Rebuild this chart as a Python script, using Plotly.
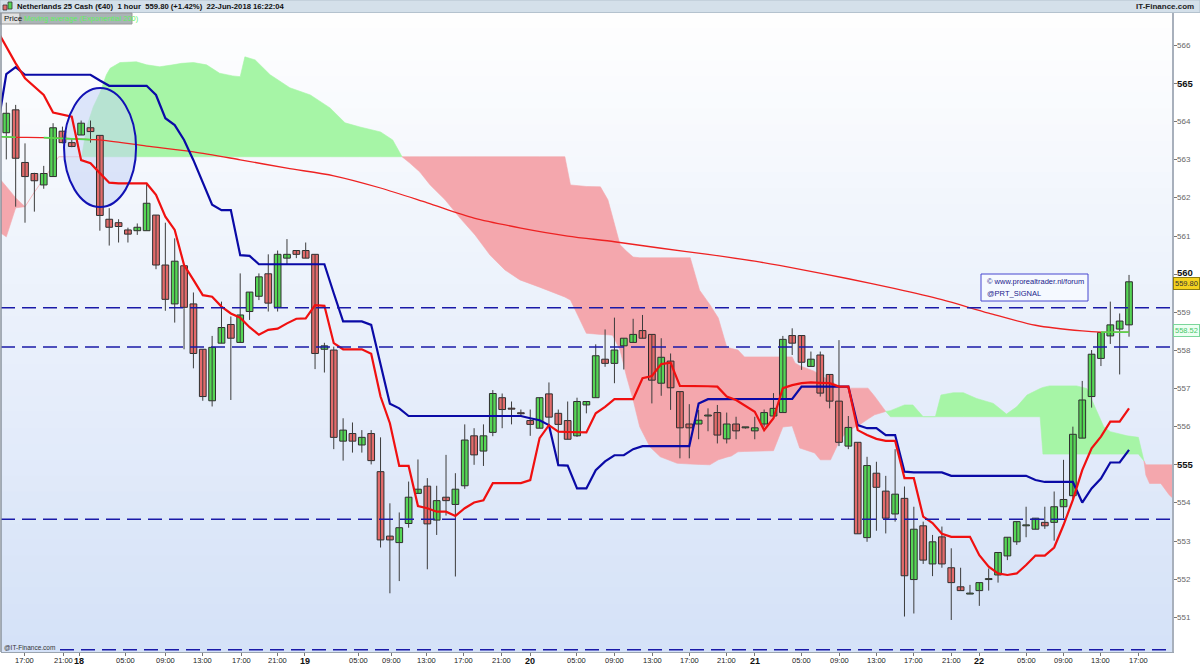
import math
import plotly.graph_objects as go

# ---------------- data ----------------
opens = [563.71, 564.31, 562.93, 562.64, 562.34, 562.56, 563.75, 563.45, 563.65, 563.84,
         563.64, 561.44, 561.35, 561.16, 561.14, 561.14, 561.55, 560.24, 559.22, 560.22,
         559.22, 558.03, 556.68, 558.19, 558.68, 558.21, 559.02, 559.42, 560.01, 559.13,
         560.42, 560.62, 560.62, 560.52, 558.03, 558.01, 555.62, 555.82, 555.52, 555.82,
         554.82, 553.13, 552.96, 553.46, 554.25, 554.44, 553.55, 554.15, 553.96, 554.45,
         555.76, 555.36, 555.85, 556.76, 556.47, 556.35, 556.16, 555.96, 556.86, 556.35,
         556.16, 555.76, 556.57, 556.76, 557.77, 557.66, 558.12, 558.21, 558.52, 558.42,
         557.14, 557.72, 556.92, 556.07, 556.07, 556.28, 556.37, 555.68, 556.07, 555.97,
         555.89, 556.07, 556.28, 556.37, 558.39, 558.39, 557.58, 557.88, 557.37, 556.67,
         555.49, 555.59, 553.09, 554.78, 554.31, 553.71, 554.12, 551.99, 553.40, 552.40,
         553.11, 552.30, 551.80, 551.61, 551.70, 551.99, 552.11, 552.61, 552.98, 553.40,
         553.31, 553.49, 553.49, 553.90, 554.19, 555.70, 556.79, 557.79, 558.38, 558.56,
         558.67]
highs = [564.50, 564.44, 563.43, 562.66, 562.84, 563.96, 563.87, 563.56, 564.03, 564.03,
         563.64, 561.73, 561.44, 561.22, 561.33, 562.36, 561.55, 561.35, 560.94, 560.22,
         559.52, 558.03, 558.38, 559.28, 558.89, 560.02, 559.53, 560.02, 560.52, 560.62,
         560.92, 560.62, 560.83, 560.52, 558.20, 558.10, 556.22, 556.11, 555.91, 555.91,
         555.72, 553.99, 553.75, 554.56, 555.14, 554.65, 554.45, 555.26, 554.78, 556.06,
         555.96, 556.06, 556.96, 556.87, 556.66, 556.45, 556.45, 556.76, 557.16, 556.45,
         556.66, 556.76, 556.66, 558.16, 558.55, 558.86, 558.32, 558.83, 558.93, 558.42,
         558.32, 557.92, 556.92, 556.59, 556.44, 556.48, 556.57, 556.37, 556.26, 555.99,
         556.26, 556.45, 556.88, 558.38, 558.58, 558.39, 557.97, 557.97, 557.37, 558.27,
         556.28, 555.59, 555.21, 555.08, 554.71, 555.41, 554.43, 553.90, 553.51, 553.16,
         553.38, 552.81, 552.30, 551.85, 551.91, 552.28, 552.70, 553.10, 553.51, 553.90,
         553.60, 553.90, 554.30, 555.13, 556.00, 557.20, 558.01, 558.47, 559.28, 558.97,
         559.98]
lows = [563.01, 561.77, 561.35, 561.64, 562.24, 562.56, 563.43, 563.33, 563.65, 563.45,
        561.14, 560.75, 560.83, 560.83, 561.03, 561.14, 560.13, 559.04, 558.73, 558.03,
        557.53, 556.68, 556.53, 558.19, 556.70, 558.21, 558.80, 559.32, 559.02, 559.02,
        560.24, 560.42, 560.42, 557.51, 557.42, 555.41, 555.11, 555.32, 555.32, 555.01,
        552.83, 551.63, 551.95, 553.35, 554.25, 552.26, 553.16, 553.67, 552.07, 554.37,
        555.00, 554.97, 555.75, 555.96, 556.06, 556.26, 555.76, 555.96, 556.04, 555.00,
        555.67, 555.73, 556.35, 556.76, 557.57, 557.14, 557.50, 558.21, 558.32, 556.61,
        556.81, 556.44, 555.17, 555.17, 555.67, 555.88, 555.56, 555.56, 555.67, 555.95,
        555.67, 556.00, 556.28, 556.37, 557.88, 557.49, 557.58, 556.79, 556.48, 555.49,
        555.41, 553.19, 552.98, 553.27, 553.20, 553.51, 551.02, 551.10, 552.40, 552.08,
        552.30, 550.93, 551.70, 551.61, 551.30, 551.70, 551.91, 552.50, 552.90, 553.10,
        553.31, 553.32, 553.01, 553.60, 554.08, 555.70, 556.50, 557.59, 558.17, 557.37,
        558.36]
closes = [564.22, 563.04, 562.56, 562.45, 562.64, 563.84, 563.45, 563.35, 563.96, 563.74,
          561.54, 561.23, 561.25, 561.05, 561.23, 561.86, 560.24, 559.34, 560.34, 559.13,
          557.92, 556.79, 558.08, 558.60, 558.32, 558.93, 559.53, 559.93, 559.24, 560.52,
          560.52, 560.52, 560.42, 557.92, 558.12, 555.72, 555.91, 555.62, 555.72, 555.11,
          553.03, 553.03, 553.35, 554.15, 554.36, 553.45, 554.06, 554.06, 554.36, 555.65,
          555.26, 555.76, 556.87, 556.45, 556.46, 556.34, 556.06, 556.76, 556.25, 556.06,
          555.67, 556.66, 556.66, 557.86, 557.66, 558.01, 558.32, 558.42, 558.32, 557.22,
          557.82, 557.02, 555.97, 555.97, 556.17, 556.29, 555.78, 556.07, 555.89, 555.97,
          555.97, 556.37, 556.48, 558.29, 558.19, 557.69, 557.77, 556.88, 556.67, 555.59,
          555.98, 553.19, 554.98, 554.41, 553.60, 554.23, 552.09, 553.31, 552.50, 552.98,
          552.40, 551.91, 551.70, 551.61, 551.91, 552.00, 552.70, 553.10, 553.51, 553.40,
          553.60, 553.40, 553.90, 554.09, 555.80, 556.70, 557.90, 558.47, 558.67, 558.77,
          559.80]
bar_index = list(range(len(opens)))

# conversion line (red) and base line (blue), one value per bar from index -1
line_index = list(range(-1, 121))
conversion = [566.40, 565.95, 565.53, 565.14, 564.92, 564.70, 564.24, 564.18, 564.13, 562.99,
              562.91, 562.65, 562.40, 562.38, 562.38, 562.38, 562.38, 562.08, 561.51, 561.16,
              560.24, 559.85, 559.45, 559.41, 559.15, 558.97, 558.86, 558.61, 558.41, 558.54,
              558.57, 558.71, 558.83, 558.84, 559.19, 559.17, 558.19, 558.03, 558.03, 558.03,
              557.91, 556.79, 556.09, 554.97, 554.97, 553.92, 553.86, 553.77, 553.77, 553.66,
              553.86, 554.01, 554.07, 554.52, 554.52, 554.52, 554.52, 554.60, 555.70, 556.04,
              555.87, 555.86, 555.86, 555.85, 556.35, 556.52, 556.72, 556.72, 556.72, 557.27,
              557.33, 557.64, 557.68, 557.07, 557.07, 557.07, 557.06, 557.05, 556.79, 556.70,
              556.54, 556.39, 555.91, 556.22, 557.01, 557.09, 557.14, 557.16, 557.15, 557.14,
              557.05, 557.05, 555.91, 555.78, 555.68, 555.63, 555.63, 554.65, 554.65, 553.64,
              553.47, 553.19, 553.11, 553.11, 553.11, 552.63, 552.33, 552.15, 552.11, 552.15,
              552.37, 552.62, 552.62, 552.83, 553.42, 554.08, 554.86, 555.43, 555.74, 556.13,
              556.13, 556.48]
base = [563.75, 565.25, 565.43, 565.23, 565.23, 565.23, 565.23, 565.23, 565.23, 565.23,
        565.23, 565.08, 564.94, 564.94, 564.94, 564.94, 564.94, 564.70, 564.09, 563.91,
        563.52, 562.99, 562.38, 561.82, 561.68, 561.68, 560.50, 560.48, 560.26, 560.26,
        560.26, 560.26, 560.26, 560.26, 560.26, 560.26, 559.50, 558.76, 558.76, 558.76,
        558.67, 557.66, 556.60, 556.48, 556.28, 556.28, 556.28, 556.28, 556.28, 556.28,
        556.28, 556.28, 556.28, 556.28, 556.28, 556.28, 556.28, 556.22, 556.17, 556.04,
        554.99, 554.98, 554.38, 554.38, 554.86, 555.09, 555.25, 555.25, 555.41, 555.49,
        555.49, 555.49, 555.49, 555.49, 555.49, 556.61, 556.72, 556.72, 556.72, 556.72,
        556.72, 556.72, 556.72, 556.72, 556.72, 556.73, 557.05, 557.05, 557.05, 557.05,
        557.05, 557.05, 556.04, 555.96, 555.96, 555.78, 555.78, 554.82, 554.80, 554.80,
        554.80, 554.80, 554.71, 554.71, 554.71, 554.71, 554.71, 554.71, 554.71, 554.71,
        554.71, 554.60, 554.55, 554.55, 554.55, 554.55, 554.01, 554.38, 554.64, 555.06,
        555.06, 555.39]

# exponential moving average 200 (read at sample bars)
ema_index = [-1, 0, 1, 4, 9, 10, 15, 20, 25, 30, 35, 40, 45, 50, 55, 60, 65, 70, 75, 80,
             85, 90, 95, 100, 105, 110, 115, 117, 120]
ema_value = [563.61, 563.60, 563.59, 563.58, 563.53, 563.52, 563.36, 563.21, 563.00, 562.78,
             562.58, 562.26, 561.87, 561.47, 561.21, 561.00, 560.85, 560.68, 560.52, 560.34,
             560.12, 559.88, 559.62, 559.33, 558.98, 558.66, 558.51, 558.48, 558.48]
ema_above_ranges = [(-1, 1), (4, 9), (117, 120)]

# cloud: leading span A and B (bar index, value)
cloud_index = [-1.0, -0.6, 0.0, 1.0, 2.0, 3.0, 4.0, 5.0, 5.6, 8.06,
               8.6, 9.3, 10.0, 10.7, 11.1, 12.15, 13.9, 15.0, 16.4, 17.8,
               18.75, 20.0, 21.4, 22.8, 24.2, 25.0, 25.5, 26.6, 28.2, 30.3,
               32.5, 34.6, 36.2, 37.8, 40.0, 41.3, 42.3,
               43.1, 44.2, 45.3, 46.9, 48.5, 50.1, 51.7, 53.3, 54.9, 57.0,
               59.2, 59.7, 60.3, 62.0, 63.5, 64.3, 64.8, 65.6, 66.3, 67.0,
               67.7, 68.8, 69.9, 71.7, 73.1, 74.1, 75.2, 76.1, 77.0, 77.5,
               78.2, 78.9, 82.0, 83.0, 84.0, 84.3, 84.8, 86.4, 87.0, 88.1,
               89.1, 90.0, 91.2, 92.1, 92.8, 94.0,
               94.5, 96.0, 96.9, 98.0, 99.3, 99.9, 101.2, 102.3, 103.7, 105.5,
               106.9, 108.0, 109.1, 110.5, 110.8, 111.5, 114.4, 115.5, 116.5, 117.3,
               118.0, 119.8, 121.0, 121.6,
               121.8, 122.2, 123.4, 124.3, 124.8]
span_a = [561.10, 561.08, 560.98, 561.74, 561.77, 562.15, 562.50, 562.85, 563.08, 563.08,
          563.87, 564.39, 564.75, 565.23, 565.40, 565.55, 565.57, 565.49, 565.44, 565.49,
          565.53, 565.55, 565.49, 565.27, 565.20, 565.18, 565.70, 565.62, 565.23, 564.89,
          564.70, 564.36, 563.97, 563.86, 563.73, 563.52, 563.08,
          562.92, 562.68, 562.34, 561.95, 561.47, 561.03, 560.50, 560.11, 559.85, 559.66,
          559.45, 559.40, 559.32, 558.45, 558.42, 558.41, 558.40, 558.01, 557.31, 556.70,
          556.00, 555.47, 555.21, 555.04, 555.02, 555.01, 555.00, 555.13, 555.20, 555.23,
          555.34, 555.35, 555.37, 555.99, 556.02, 555.80, 555.44, 555.31, 555.13, 555.13,
          555.65, 555.90, 556.05, 556.20, 556.31, 556.40,
          556.42, 556.57, 556.57, 556.26, 556.26, 556.83, 556.89, 556.89, 556.74, 556.61,
          556.33, 556.52, 556.83, 557.00, 557.03, 557.07, 557.07, 557.00, 556.44, 556.00,
          555.87, 555.76, 555.72, 555.10,
          554.73, 554.51, 554.51, 554.21, 554.10]
span_b = [562.55, 562.47, 562.30, 562.00, 561.77, 562.15, 562.50, 562.85, 563.08, 563.08,
          563.08, 563.08, 563.08, 563.08, 563.08, 563.08, 563.08, 563.08, 563.08, 563.08,
          563.08, 563.08, 563.08, 563.08, 563.08, 563.08, 563.08, 563.08, 563.08, 563.08,
          563.08, 563.08, 563.08, 563.08, 563.08, 563.08, 563.08,
          563.08, 563.08, 563.08, 563.08, 563.08, 563.08, 563.08, 563.08, 563.08, 563.08,
          563.08, 563.08, 562.34, 562.30, 562.29, 561.95, 561.50, 560.77, 560.60, 560.45,
          560.43, 560.43, 560.43, 560.43, 560.43, 559.58, 559.20, 558.85, 558.09, 558.05,
          558.01, 557.83, 557.83, 557.83, 557.83, 557.67, 557.60, 557.45, 557.35, 557.20,
          557.05, 557.01, 557.01, 557.01, 556.80, 556.40,
          556.26, 556.26, 556.26, 556.26, 556.26, 556.26, 556.26, 556.26, 556.26, 556.26,
          556.26, 556.26, 556.26, 556.26, 555.28, 555.28, 555.28, 555.28, 555.28, 555.28,
          555.28, 555.28, 555.28, 555.10,
          555.00, 555.00, 555.00, 555.00, 555.00]

levels = [559.12, 558.09, 553.57, 550.15]

tick_pos = [1.9, 6.1, 7.8, 12.7, 17.0, 21.0, 25.1, 29.0, 31.9, 37.6, 41.2, 44.9, 48.9, 52.9,
            56.0, 60.9, 65.0, 69.1, 73.0, 77.0, 80.0, 85.0, 89.1, 93.0, 97.0, 101.0, 104.0,
            109.0, 113.0, 117.0, 121.0]
tick_text = ['17:00', '21:00', '18', '05:00', '09:00', '13:00', '17:00', '21:00', '19', '05:00',
             '09:00', '13:00', '17:00', '21:00', '20', '05:00', '09:00', '13:00', '17:00', '21:00',
             '21', '05:00', '09:00', '13:00', '17:00', '21:00', '22', '05:00', '09:00', '13:00',
             '17:00']
price_ticks = list(range(551, 567))

last_price = "559.80"
ema_last = "558.52"

# ---------------- styling helpers ----------------
FONT = "Liberation Sans"
W, H = 1200, 667
ML, MR, MT, MB = 1, 28, 13, 15
PW, PH = W - ML - MR, H - MT - MB
X0 = (ML - 6.3) / 9.356
X1 = (W - MR - 6.3) / 9.356


def pxx(xp):
    return (xp - ML) / PW


def pxy(yp):
    return (H - MB - yp) / PH


GREEN_CLOUD = "#a6f5a6"
RED_CLOUD = "#f4a7ad"
UP_COL = "#55d655"
DN_COL = "#e36b6b"

fig = go.Figure()
shapes = []

# background gradient bands
NB = 40
for k in range(NB):
    t = (k + 0.5) / NB
    r = int(255 - (255 - 213) * t)
    g = int(255 - (255 - 226) * t)
    bcol = int(255 - (255 - 248) * t)
    shapes.append(dict(type="rect", xref="paper", yref="paper", x0=0, x1=1,
                       y0=1 - (k + 1) / NB, y1=1 - k / NB + 0.001,
                       fillcolor=f"rgb({r},{g},{bcol})", line=dict(width=0), layer="below"))

# ---- cloud polygons (shapes below the candles) ----
segs = []
for k in range(len(cloud_index) - 1):
    d = (span_a[k] - span_b[k]) + (span_a[k + 1] - span_b[k + 1])
    cls = 0 if abs(d) < 1e-9 else (1 if d > 0 else -1)
    segs.append(cls)
groups = []
start = 0
for k in range(1, len(segs) + 1):
    if k == len(segs) or segs[k] != segs[start]:
        groups.append((segs[start], start, k))
        start = k
for cls, s, e in groups:
    xs = cloud_index[s:e + 1]
    a = span_a[s:e + 1]
    b = span_b[s:e + 1]
    if cls == 0:
        col = "#f2b8bd" if xs[0] < 50 else GREEN_CLOUD
        path = "M " + " L ".join(f"{x},{y}" for x, y in zip(xs, a))
        shapes.append(dict(type="path", xref="x", yref="y", path=path, layer="below",
                           line=dict(color=col, width=1)))
        continue
    col = GREEN_CLOUD if cls > 0 else RED_CLOUD
    px_ = xs + xs[::-1]
    py_ = a + b[::-1]
    path = "M " + " L ".join(f"{x},{y}" for x, y in zip(px_, py_)) + " Z"
    shapes.append(dict(type="path", xref="x", yref="y", path=path, layer="below",
                       fillcolor=col, line=dict(color=col, width=0.6)))

# ---- ellipse fill (above cloud, below candles) ----
ecx, ecy, erx, ery = 10.02, 563.32, 3.85, 1.56
shapes.append(dict(type="circle", xref="x", yref="y", x0=ecx - erx, x1=ecx + erx,
                   y0=ecy - ery, y1=ecy + ery, line=dict(width=0),
                   fillcolor="rgba(196,212,246,0.55)", layer="below"))

# ---- candles: wicks then bodies ----
wx, wy = [], []
for i, h, l in zip(bar_index, highs, lows):
    wx += [i, i, None]
    wy += [l, h, None]
fig.add_trace(go.Scatter(x=wx, y=wy, mode="lines", line=dict(color="#3c3c3c", width=1),
                         hoverinfo="skip", showlegend=False))
body_base = [min(o, c) for o, c in zip(opens, closes)]
body_len = [max(abs(c - o), 0.025) for o, c in zip(opens, closes)]
body_col = [UP_COL if c >= o else DN_COL for o, c in zip(opens, closes)]
fig.add_trace(go.Bar(x=bar_index, y=body_len, base=body_base, width=0.72,
                     marker=dict(color=body_col, line=dict(color="#2e2e2e", width=1)),
                     hoverinfo="skip", showlegend=False))

# ---- EMA 200 ----
fig.add_trace(go.Scatter(x=ema_index, y=ema_value, mode="lines",
                         line=dict(color="#ee2222", width=1.3, shape="spline", smoothing=0.8),
                         hoverinfo="skip", showlegend=False))
for a0, a1 in ema_above_ranges:
    sx = [i for i in ema_index if a0 <= i <= a1]
    sy = [v for i, v in zip(ema_index, ema_value) if a0 <= i <= a1]
    fig.add_trace(go.Scatter(x=sx, y=sy, mode="lines",
                             line=dict(color="#4ee04e", width=1.6, shape="spline", smoothing=0.8),
                             hoverinfo="skip", showlegend=False))

# ---- base & conversion lines ----
fig.add_trace(go.Scatter(x=line_index, y=base, mode="lines",
                         line=dict(color="#0a0aa6", width=2.2), hoverinfo="skip", showlegend=False))
fig.add_trace(go.Scatter(x=line_index, y=conversion, mode="lines",
                         line=dict(color="#f01010", width=2.2), hoverinfo="skip", showlegend=False))

# dashed levels
for j, lv in enumerate(levels):
    shapes.append(dict(type="line", xref="paper", yref="y", x0=pxx(60) if j == 3 else 0, x1=1,
                       y0=lv, y1=lv,
                       line=dict(color="#1a1aa8", width=1.6, dash="14px,7px"), layer="above"))
# ellipse outline
shapes.append(dict(type="circle", xref="x", yref="y", x0=ecx - erx, x1=ecx + erx,
                   y0=ecy - ery, y1=ecy + ery, line=dict(color="#1212b4", width=2),
                   fillcolor="rgba(0,0,0,0)", layer="above"))
# header bar
shapes.append(dict(type="rect", xref="paper", yref="paper", x0=pxx(0), x1=pxx(W),
                   y0=pxy(12.5), y1=pxy(0), fillcolor="#d4e0ea", line=dict(color="#b4c2ce", width=1),
                   layer="above"))
# header icon
shapes.append(dict(type="rect", xref="paper", yref="paper", x0=pxx(3), x1=pxx(7),
                   y0=pxy(10), y1=pxy(5), fillcolor=DN_COL, line=dict(color="#333", width=0.8)))
shapes.append(dict(type="rect", xref="paper", yref="paper", x0=pxx(8), x1=pxx(12),
                   y0=pxy(9), y1=pxy(2), fillcolor=UP_COL, line=dict(color="#333", width=0.8)))
# "Price" tab and MA legend tab
shapes.append(dict(type="rect", xref="paper", yref="paper", x0=pxx(0), x1=pxx(20),
                   y0=pxy(24), y1=pxy(13), fillcolor="#e2e2e2", line=dict(color="#9a9a9a", width=1)))
shapes.append(dict(type="rect", xref="paper", yref="paper", x0=pxx(20), x1=pxx(132),
                   y0=pxy(24), y1=pxy(13), fillcolor="#aab3b6", line=dict(color="#9a9a9a", width=1)))
# info box
shapes.append(dict(type="rect", xref="paper", yref="paper", x0=pxx(981), x1=pxx(1088),
                   y0=pxy(301), y1=pxy(274), fillcolor="rgba(246,249,255,0.9)",
                   line=dict(color="#4646d0", width=1)))
# left border
shapes.append(dict(type="line", xref="paper", yref="paper", x0=0, x1=0, y0=0, y1=1,
                   line=dict(color="#8a939e", width=1.5)))

annotations = [
    dict(xref="paper", yref="paper", x=pxx(15), y=pxy(6.5), xanchor="left", yanchor="middle",
         text="<b>Netherlands 25 Cash (€40)  1 hour  559.80 (+1.42%)  22-Jun-2018 16:22:04</b>",
         showarrow=False, font=dict(family=FONT, size=7.7, color="#111")),
    dict(xref="paper", yref="paper", x=pxx(1196), y=pxy(6.5), xanchor="right", yanchor="middle",
         text="<b>IT-Finance.com</b>", showarrow=False, font=dict(family=FONT, size=8, color="#222")),
    dict(xref="paper", yref="paper", x=pxx(2), y=pxy(18.5), xanchor="left", yanchor="middle",
         text="Price", showarrow=False, font=dict(family=FONT, size=8, color="#111")),
    dict(xref="paper", yref="paper", x=pxx(22), y=pxy(18.5), xanchor="left", yanchor="middle",
         text="Moving average (Exponential 200)", showarrow=False,
         font=dict(family=FONT, size=7.5, color="#5ef05e")),
    dict(xref="paper", yref="paper", x=pxx(985), y=pxy(281.5), xanchor="left", yanchor="middle",
         text="© www.prorealtrader.nl/forum", showarrow=False,
         font=dict(family=FONT, size=7.5, color="#1a1a8c")),
    dict(xref="paper", yref="paper", x=pxx(985), y=pxy(293), xanchor="left", yanchor="middle",
         text="@PRT_SIGNAL", showarrow=False, font=dict(family=FONT, size=7.5, color="#1a1a8c")),
    dict(xref="paper", yref="paper", x=pxx(2), y=pxy(647.5), xanchor="left", yanchor="middle",
         text="@IT-Finance.com", showarrow=False, font=dict(family=FONT, size=6.5, color="#333")),
]

# price axis labels (right side)
for v in price_ticks:
    if v % 5 == 0:
        txt = f"<b>{v}</b>"
        fnt = dict(family=FONT, size=9.5, color="#111")
        ys = 2 if v == 560 else 0
    else:
        txt = str(v)
        fnt = dict(family=FONT, size=8, color="#666")
        ys = 0
    annotations.append(dict(xref="paper", yref="y", x=pxx(1175), y=v, xanchor="left",
                            yanchor="middle", text=txt, showarrow=False, font=fnt, yshift=ys))
annotations += [
    dict(xref="paper", yref="y", x=pxx(1173), y=float(last_price), xanchor="left", yanchor="middle",
         text=last_price, showarrow=False, bgcolor="#f5d21e", bordercolor="#8d7c10", borderwidth=1,
         borderpad=1, yshift=-2, font=dict(family=FONT, size=7.5, color="#333")),
    dict(xref="paper", yref="y", x=pxx(1173), y=float(ema_last), xanchor="left", yanchor="middle",
         text=ema_last, showarrow=False, bgcolor="#ecfff2", bordercolor="#7ad69a", borderwidth=1,
         borderpad=1, font=dict(family=FONT, size=7.5, color="#48c868")),
]
# time axis labels (bottom)
for p, t in zip(tick_pos, tick_text):
    if ":" in t:
        txt, fnt = t, dict(family=FONT, size=7.5, color="#222")
    else:
        txt, fnt = f"<b>{t}</b>", dict(family=FONT, size=9, color="#111")
    annotations.append(dict(xref="x", yref="paper", x=p, y=pxy(660.5), xanchor="center",
                            yanchor="middle", text=txt, showarrow=False, font=fnt))

fig.update_layout(
    width=W, height=H, margin=dict(l=ML, r=MR, t=MT, b=MB),
    paper_bgcolor="white", plot_bgcolor="white", showlegend=False, barmode="overlay",
    shapes=shapes, annotations=annotations,
    xaxis=dict(range=[X0, X1], showgrid=False, zeroline=False,
               tickmode="array", tickvals=tick_pos, ticktext=[""] * len(tick_pos),
               ticks="outside", ticklen=3, tickcolor="#777", showline=True, linecolor="#9aa4b0",
               linewidth=1, fixedrange=True),
    yaxis=dict(side="right", range=[550.09, 566.85], showgrid=False, zeroline=False,
               tickmode="array", tickvals=price_ticks, ticktext=[""] * len(price_ticks),
               ticks="outside", ticklen=3, tickcolor="#777", showline=True, linecolor="#a8b0bc",
               linewidth=2, fixedrange=True),
)

fig.write_html("out.html", config={"displayModeBar": False},
               post_script="document.body.style.margin='0px';")
